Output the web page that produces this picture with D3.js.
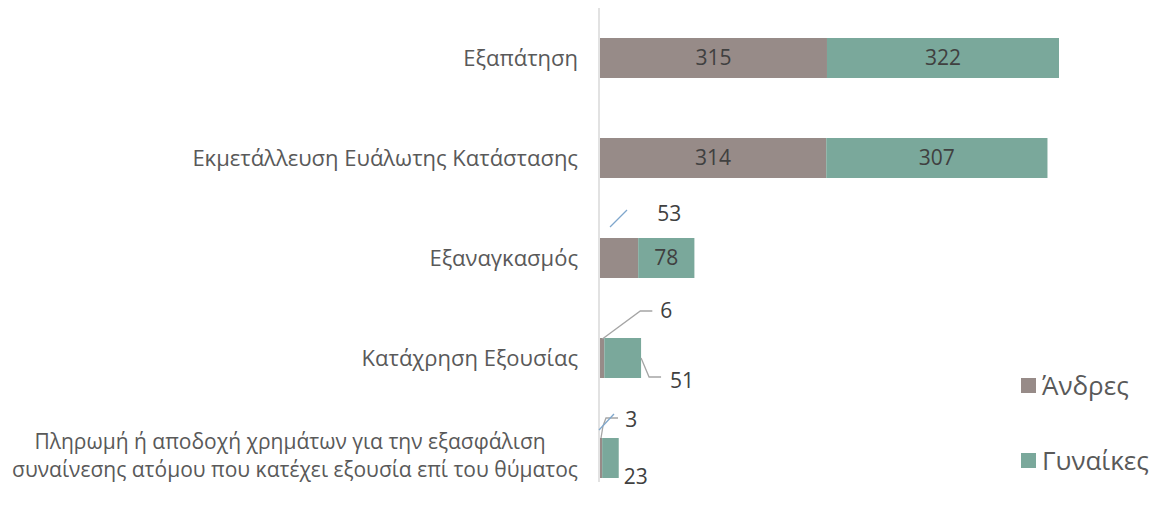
<!DOCTYPE html>
<html>
<head>
<meta charset="utf-8">
<script src="https://cdn.jsdelivr.net/npm/d3@7"></script>
<style>
  body { margin: 0; background: #fff; }
  svg { font-family: "Open Sans", "Noto Sans", sans-serif; }
  .cat { fill: #595959; font-size: 22px; }
  .cat2 { fill: #595959; font-size: 21px; }
  .val { fill: #404040; font-size: 21px; }
  .leg { fill: #595959; font-size: 26px; }
</style>
</head>
<body>
<svg id="chart"></svg>
<script>
// categories top -> bottom
let categories = [
  'Εξαπάτηση',
  'Εκμετάλλευση Ευάλωτης Κατάστασης',
  'Εξαναγκασμός',
  'Κατάχρηση Εξουσίας',
  'Πληρωμή ή αποδοχή χρημάτων για την εξασφάλιση|συναίνεσης ατόμου που κατέχει εξουσία επί του θύματος'
];
let seriesNames = ['Άνδρες', 'Γυναίκες'];
let men = [315, 314, 53, 6, 3];
let women = [322, 307, 78, 51, 23];

let colors = ['#978b88', '#7aa89b'];

let width = 1153, height = 506;
let svg = d3.select('#chart').attr('width', width).attr('height', height);

let x = d3.scaleLinear().domain([0, 637]).range([600, 1059]);
let y = d3.scaleBand().domain(categories).range([8, 508]).paddingInner(0.6).paddingOuter(0.3);

let rows = categories.map(function(c, i) { return {cat: c, i: i, m: men[i], w: women[i]}; });

// axis line
svg.append('line')
  .attr('x1', 599).attr('x2', 599)
  .attr('y1', 8).attr('y2', 482)
  .attr('stroke', '#d9d9d9').attr('stroke-width', 1.5);

let g = svg.append('g');

// men
g.selectAll('.m').data(rows).enter().append('rect')
  .attr('x', x(0))
  .attr('y', function(d) { return y(d.cat); })
  .attr('width', function(d) { return x(d.m) - x(0); })
  .attr('height', y.bandwidth())
  .attr('fill', colors[0]);

// women
g.selectAll('.w').data(rows).enter().append('rect')
  .attr('x', function(d) { return x(d.m); })
  .attr('y', function(d) { return y(d.cat); })
  .attr('width', function(d) { return x(d.m + d.w) - x(d.m); })
  .attr('height', y.bandwidth())
  .attr('fill', colors[1]);

// category labels
rows.forEach(function(d) {
  let cy = y(d.cat) + y.bandwidth() / 2;
  let lines = d.cat.split('|');
  if (lines.length == 1) {
    svg.append('text').attr('class', 'cat')
      .attr('x', 578).attr('y', cy).attr('dy', '0.35em')
      .attr('text-anchor', 'end').text(lines[0]);
  } else {
    let t2 = svg.append('text').attr('class', 'cat2')
      .attr('x', 578).attr('y', cy + 12).attr('dy', '0.35em')
      .attr('text-anchor', 'end').text(lines[1]);
    let w2 = t2.node().getComputedTextLength();
    svg.append('text').attr('class', 'cat2')
      .attr('x', 578 - w2 / 2 - 5).attr('y', cy - 16).attr('dy', '0.35em')
      .attr('text-anchor', 'middle').text(lines[0]);
  }
});

// value labels: inside for wide segments, outside (with leaders) otherwise
function mid(d) { return y(d.cat) + y.bandwidth() / 2; }
function barTop(d) { return y(d.cat); }
function barBot(d) { return y(d.cat) + y.bandwidth(); }

function val(tx, ty, t) {
  svg.append('text').attr('class', 'val')
    .attr('x', tx).attr('y', ty).attr('dy', '0.35em')
    .attr('text-anchor', 'middle').text(t);
}
function leader(pts, col) {
  svg.append('path').attr('d', d3.line()(pts))
    .attr('fill', 'none').attr('stroke', col).attr('stroke-width', 1.3);
}

rows.forEach(function(d) {
  if (d.m > 100) val((x(0) + x(d.m)) / 2, mid(d), d.m);
  if (d.w > 60) val((x(d.m) + x(d.m + d.w)) / 2, mid(d), d.w);
});

// Εξαναγκασμός: men label above
let r = rows[2];
val(x(r.m) + 31, barTop(r) - 24, r.m);
leader([[x(0) + 10, barTop(r) - 11], [x(0) + 27, barTop(r) - 28]], '#7fa7cc');

// Κατάχρηση Εξουσίας
r = rows[3];
val(x(r.m) + 62, barTop(r) - 27, r.m);
leader([[x(r.m) - 2, barTop(r) + 1], [x(r.m) + 36, barTop(r) - 27], [x(r.m) + 48, barTop(r) - 27]], '#a5a5a5');
val(x(r.m + r.w) + 41, barBot(r) + 3, r.w);
leader([[x(r.m + r.w), mid(r)], [x(r.m + r.w) + 8, barBot(r) - 1], [x(r.m + r.w) + 20, barBot(r) - 1]], '#a5a5a5');

// Πληρωμή
r = rows[4];
val(x(r.m) + 29, barTop(r) - 18, r.m);
leader([[x(0) + 1, barTop(r)], [x(0) + 3, barTop(r) - 12], [x(0) + 6, barTop(r) - 20], [x(0) + 18, barTop(r) - 20]], '#a5a5a5');
leader([[x(0) - 1, barTop(r) - 8], [x(0) + 14, barTop(r) - 24]], '#7fa7cc');
val(x(r.m + r.w) + 17, barBot(r) - 1, r.w);

// legend
let legY = [386, 461];
seriesNames.forEach(function(s, i) {
  svg.append('rect').attr('x', 1021).attr('y', legY[i] - 8)
    .attr('width', 15).attr('height', 15).attr('fill', colors[i]);
  svg.append('text').attr('class', 'leg')
    .attr('x', 1042).attr('y', legY[i]).attr('dy', '0.35em').text(s);
});
</script>
</body>
</html>
